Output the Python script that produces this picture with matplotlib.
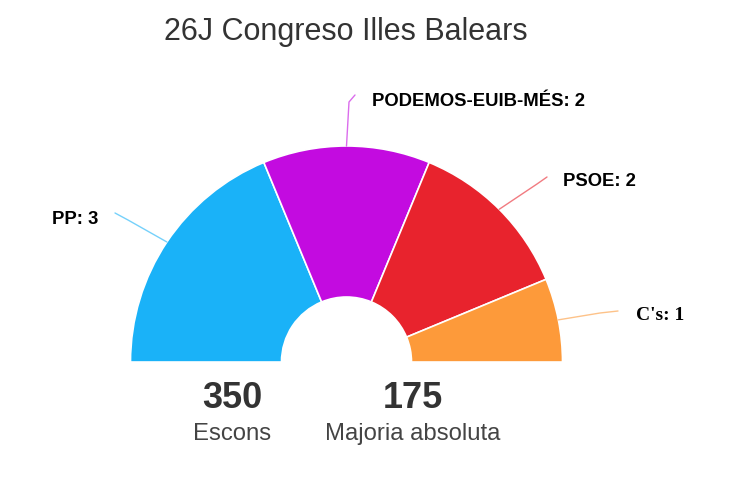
import matplotlib
matplotlib.use("Agg")
import matplotlib.pyplot as plt
import numpy as np

title = "26J Congreso Illes Balears"
parties = ["PP", "PODEMOS-EUIB-MÉS", "PSOE", "C's"]
seats = [3, 2, 2, 1]
colors = ["#1ab2f8", "#c30be0", "#e8232d", "#fd9a3a"]
total_seats = 350
majority = 175

W, H = 730, 500
fig = plt.figure(figsize=(W / 100, H / 100), dpi=100)
ax = fig.add_axes([0, 0, 1, 1])
ax.set_xlim(0, W)
ax.set_ylim(0, H)
ax.set_aspect("equal")
ax.axis("off")

cx, cy = 346.5, H - 362
R, r_in = 216, 65

vals = seats + [sum(seats)]
wedges, _ = ax.pie(vals, colors=colors + ["none"], startangle=180, counterclock=False,
                   radius=R, center=(cx, cy),
                   wedgeprops=dict(width=R - r_in, edgecolor="white", linewidth=1.2))
wedges[-1].set_edgecolor("none")
ax.set_xlim(0, W)
ax.set_ylim(0, H)

# label positions (pixel coords, top-left origin) and connector bend points
label_pos = [(98, 220, "right"), (372, 102, "left"), (563, 181, "left"), (636, 316, "left")]
bends = [[(128, 220), (115, 213)], [(349, 102), (355, 95)], [(537, 184), (547, 177)], [(600, 313), (618, 311)]]
fonts = [["Liberation Sans"], ["Liberation Sans"], ["Liberation Sans"], ["Liberation Serif"]]
fsizes = [13.3, 13.3, 13.3, 14]

cum = np.cumsum([0] + seats)
tot = sum(seats)
for i, (p, s) in enumerate(zip(parties, seats)):
    mid = np.deg2rad(180 - 180 * (cum[i] + s / 2) / tot)
    ex, ey = cx + R * np.cos(mid), cy + R * np.sin(mid)
    xs = [ex] + [b[0] for b in bends[i]]
    ys = [ey] + [H - b[1] for b in bends[i]]
    ax.plot(xs, ys, color=colors[i], lw=1, alpha=0.6, solid_capstyle="round",
            solid_joinstyle="round")
    lx, ly, ha = label_pos[i]
    ax.text(lx, H - ly, f"{p}: {s}", ha=ha, va="center", fontsize=fsizes[i],
            fontweight="bold", color="#000000", family=fonts[i])

ax.text(346, H - 32, title, ha="center", va="center", fontsize=22,
        color="#333333", family=["Liberation Sans"])

ax.text(232, H - 398, str(total_seats), ha="center", va="center", fontsize=26,
        fontweight="bold", color="#333333", family=["Liberation Sans"])
ax.text(232, H - 434, "Escons", ha="center", va="center", fontsize=17.2,
        color="#444444", family=["Liberation Sans"])
ax.text(413, H - 398, str(majority), ha="center", va="center", fontsize=26,
        fontweight="bold", color="#333333", family=["Liberation Sans"])
ax.text(413, H - 434, "Majoria absoluta", ha="center", va="center", fontsize=17.2,
        color="#444444", family=["Liberation Sans"])

fig.savefig("out.png", dpi=100, facecolor="white")
